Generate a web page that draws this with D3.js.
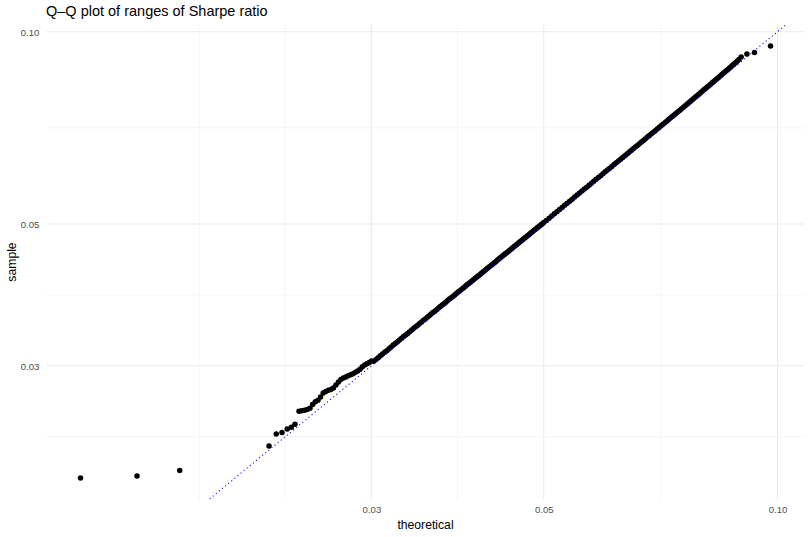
<!DOCTYPE html>
<html>
<head>
<meta charset="utf-8">
<script src="https://cdn.jsdelivr.net/npm/d3@7"></script>
<style>
  html, body { margin: 0; padding: 0; background: #ffffff; }
  svg { display: block; font-family: "Liberation Sans", Arial, Helvetica, sans-serif; }
</style>
</head>
<body>
<svg id="chart" width="810" height="537"></svg>
<script>
// ---------------- data ----------------
const titleText = "Q\u2013Q plot of ranges of Sharpe ratio";
const xLabel = "theoretical";
const yLabel = "sample";

const xTicks = [0.03, 0.05, 0.10];
const xTickLabels = ["0.03", "0.05", "0.10"];
const yTicks = [0.03, 0.05, 0.10];
const yTickLabels = ["0.03", "0.05", "0.10"];

// theoretical quantiles (x) and sorted sample values (y)
const theoretical = [
  0.01266, 0.01497, 0.01699, 0.02214, 0.02262, 0.02301, 0.02337, 0.02365, 0.02391,
  0.0242, 0.0244, 0.0246, 0.0248, 0.0250, 0.0252, 0.0254, 0.0256, 0.0258, 0.0260,
  0.0262, 0.0264, 0.0266, 0.0268, 0.0270, 0.0272, 0.0274, 0.0276, 0.0278, 0.0280,
  0.0282, 0.0284, 0.0286, 0.0288, 0.0290, 0.0292, 0.0294, 0.0296, 0.0298, 0.0300,
  0.0302, 0.0304, 0.0306, 0.0308, 0.0310, 0.0312, 0.0314, 0.0316, 0.0318, 0.0320,
  0.0322, 0.0324, 0.0326, 0.0328, 0.0330, 0.0332, 0.0334, 0.0336, 0.0338, 0.0340,
  0.0342, 0.0344, 0.0346, 0.0348, 0.0350, 0.0352, 0.0354, 0.0356, 0.0358, 0.0360,
  0.0362, 0.0364, 0.0366, 0.0368, 0.0370, 0.0372, 0.0374, 0.0376, 0.0378, 0.0380,
  0.0382, 0.0384, 0.0386, 0.0388, 0.0390, 0.0392, 0.0394, 0.0396, 0.0398, 0.0400,
  0.0402, 0.0404, 0.0406, 0.0408, 0.0410, 0.0412, 0.0414, 0.0416, 0.0418, 0.0420,
  0.0422, 0.0424, 0.0426, 0.0428, 0.0430, 0.0432, 0.0434, 0.0436, 0.0438, 0.0440,
  0.0442, 0.0444, 0.0446, 0.0448, 0.0450, 0.0452, 0.0454, 0.0456, 0.0458, 0.0460,
  0.0462, 0.0464, 0.0466, 0.0468, 0.0470, 0.0472, 0.0474, 0.0476, 0.0478, 0.0480,
  0.0482, 0.0484, 0.0486, 0.0488, 0.0490, 0.0492, 0.0494, 0.0496, 0.0498, 0.0500,
  0.0504, 0.0508, 0.0512, 0.0516, 0.0520, 0.0524, 0.0528, 0.0532, 0.0536, 0.0540,
  0.0544, 0.0548, 0.0552, 0.0556, 0.0560, 0.0564, 0.0568, 0.0572, 0.0576, 0.0580,
  0.0584, 0.0588, 0.0592, 0.0596, 0.0600, 0.0604, 0.0608, 0.0612, 0.0616, 0.0620,
  0.0624, 0.0628, 0.0632, 0.0636, 0.0640, 0.0644, 0.0648, 0.0652, 0.0656, 0.0660,
  0.0664, 0.0668, 0.0672, 0.0676, 0.0680, 0.0684, 0.0688, 0.0692, 0.0696, 0.0700,
  0.0704, 0.0708, 0.0712, 0.0716, 0.0720, 0.0724, 0.0728, 0.0732, 0.0736, 0.0740,
  0.0744, 0.0748, 0.0752, 0.0756, 0.0760, 0.0764, 0.0768, 0.0772, 0.0776, 0.0780,
  0.0784, 0.0788, 0.0792, 0.0796, 0.0800, 0.0804, 0.0808, 0.0812, 0.0816, 0.0820,
  0.0824, 0.0828, 0.0832, 0.0836, 0.0840, 0.0844, 0.0848, 0.0852, 0.0856, 0.0860,
  0.0864, 0.0868, 0.0872, 0.0876, 0.0880, 0.0884, 0.0888, 0.0892, 0.0898,
  0.09133, 0.09341, 0.09795
];
const sample = [
  0.02002, 0.02017, 0.02056, 0.02247, 0.02346, 0.02358, 0.02389, 0.02403, 0.02429,
  0.02546, 0.02550, 0.02555, 0.02562, 0.02575, 0.02610, 0.02635, 0.02650, 0.02680, 0.02720,
  0.02735, 0.02746, 0.02755, 0.02770, 0.02798, 0.02830, 0.02856, 0.02870, 0.02882, 0.02893,
  0.02905, 0.02916, 0.02930, 0.02943, 0.02962, 0.02990, 0.03008, 0.03022, 0.03036, 0.03052,
  0.03050, 0.03068, 0.03089, 0.03110, 0.03131, 0.03150, 0.03168, 0.03190, 0.03211, 0.03232,
  0.03252, 0.03270, 0.03291, 0.03312, 0.03334, 0.03353, 0.03371, 0.03392, 0.03413, 0.03435,
  0.03454, 0.03472, 0.03493, 0.03514, 0.03534, 0.03552, 0.03572, 0.03594, 0.03615, 0.03634,
  0.03652, 0.03672, 0.03694, 0.03714, 0.03733, 0.03751, 0.03772, 0.03794, 0.03815, 0.03834,
  0.03852, 0.03872, 0.03893, 0.03913, 0.03932, 0.03951, 0.03971, 0.03992, 0.04012, 0.04031,
  0.04050, 0.04070, 0.04091, 0.04111, 0.04131, 0.04150, 0.04170, 0.04190, 0.04210, 0.04230,
  0.04250, 0.04270, 0.04290, 0.04310, 0.04331, 0.04350, 0.04369, 0.04390, 0.04410, 0.04430,
  0.04450, 0.04470, 0.04490, 0.04510, 0.04530, 0.04550, 0.04570, 0.04590, 0.04609, 0.04629,
  0.04649, 0.04669, 0.04689, 0.04709, 0.04729, 0.04749, 0.04768, 0.04788, 0.04808, 0.04828,
  0.04848, 0.04867, 0.04887, 0.04907, 0.04927, 0.04946, 0.04966, 0.04986, 0.05006, 0.05026,
  0.05066, 0.05106, 0.05147, 0.05188, 0.05228, 0.05268, 0.05308, 0.05349, 0.05390, 0.05430,
  0.05469, 0.05509, 0.05550, 0.05591, 0.05631, 0.05671, 0.05710, 0.05751, 0.05792, 0.05833,
  0.05873, 0.05912, 0.05952, 0.05993, 0.06034, 0.06074, 0.06114, 0.06154, 0.06195, 0.06236,
  0.06276, 0.06315, 0.06355, 0.06396, 0.06437, 0.06477, 0.06516, 0.06556, 0.06597, 0.06638,
  0.06678, 0.06717, 0.06757, 0.06798, 0.06839, 0.06880, 0.06920, 0.06960, 0.07000, 0.07041,
  0.07082, 0.07122, 0.07162, 0.07202, 0.07243, 0.07284, 0.07325, 0.07365, 0.07405, 0.07445,
  0.07486, 0.07528, 0.07570, 0.07612, 0.07652, 0.07692, 0.07733, 0.07775, 0.07818, 0.07860,
  0.07900, 0.07940, 0.07981, 0.08024, 0.08067, 0.08110, 0.08151, 0.08190, 0.08230, 0.08272,
  0.08316, 0.08360, 0.08402, 0.08442, 0.08482, 0.08525, 0.08570, 0.08614, 0.08655, 0.08694,
  0.08734, 0.08778, 0.08823, 0.08866, 0.08905, 0.08950, 0.08998, 0.09050, 0.09128,
  0.09229, 0.09281, 0.09497
];

// ---------------- layout ----------------
const W = 810, H = 537;
const panel = { left: 46, right: 805, top: 24.4, bottom: 499.6 };
const svg = d3.select("#chart");

function expandedLogDomain(vals) {
  const lo = Math.log10(d3.min(vals)), hi = Math.log10(d3.max(vals));
  const e = (hi - lo) * 0.05;
  return [Math.pow(10, lo - e), Math.pow(10, hi + e)];
}

const x = d3.scaleLog().domain(expandedLogDomain(theoretical)).range([panel.left, panel.right]);
const y = d3.scaleLog().domain(expandedLogDomain(sample)).range([panel.bottom, panel.top]);

// ggplot-style minor breaks (midpoints in transformed space, extended one step)
function minorBreaks(ticks, domain) {
  const b = ticks.map(Math.log10);
  const lim = domain.map(Math.log10);
  const bd = b[1] - b[0];
  let bb = b.slice();
  if (lim[0] < bb[0]) bb.unshift(bb[0] - bd);
  if (lim[1] > bb[bb.length - 1]) bb.push(bb[bb.length - 1] + bd);
  const out = [];
  for (let i = 0; i < bb.length; i++) {
    out.push(bb[i]);
    if (i < bb.length - 1) out.push((bb[i] + bb[i + 1]) / 2);
  }
  return out.filter(v => v >= lim[0] && v <= lim[1] && !b.some(m => Math.abs(m - v) < 1e-9))
            .map(v => Math.pow(10, v));
}

const gridCol = "#EBEBEB";
const grid = svg.append("g");
grid.selectAll("line.xminor").data(minorBreaks(xTicks, x.domain())).join("line")
  .attr("x1", d => x(d)).attr("x2", d => x(d))
  .attr("y1", panel.top).attr("y2", panel.bottom)
  .attr("stroke", gridCol).attr("stroke-width", 0.55);
grid.selectAll("line.yminor").data(minorBreaks(yTicks, y.domain())).join("line")
  .attr("y1", d => y(d)).attr("y2", d => y(d))
  .attr("x1", panel.left).attr("x2", panel.right)
  .attr("stroke", gridCol).attr("stroke-width", 0.55);
grid.selectAll("line.xmajor").data(xTicks).join("line")
  .attr("x1", d => x(d)).attr("x2", d => x(d))
  .attr("y1", panel.top).attr("y2", panel.bottom)
  .attr("stroke", gridCol).attr("stroke-width", 1.1);
grid.selectAll("line.ymajor").data(yTicks).join("line")
  .attr("y1", d => y(d)).attr("y2", d => y(d))
  .attr("x1", panel.left).attr("x2", panel.right)
  .attr("stroke", gridCol).attr("stroke-width", 1.1);

svg.append("clipPath").attr("id", "clip").append("rect")
  .attr("x", panel.left).attr("y", panel.top)
  .attr("width", panel.right - panel.left).attr("height", panel.bottom - panel.top);

const plot = svg.append("g").attr("clip-path", "url(#clip)");

const pts = theoretical.map((t, i) => ({ t, s: sample[i] }));
plot.selectAll("circle").data(pts).join("circle")
  .attr("cx", d => x(d.t)).attr("cy", d => y(d.s))
  .attr("r", 2.75).attr("fill", "#000000");

// reference line y = x
const xd = x.domain();
plot.append("path")
  .datum([xd[0], xd[1]])
  .attr("d", d3.line().x(d => x(d)).y(d => y(d)))
  .attr("fill", "none").attr("stroke", "#0000FF")
  .attr("stroke-width", 1.1).attr("stroke-dasharray", "1.1 2.9");

const tickCol = "#4D4D4D";
const xAxis = d3.axisBottom(x).tickValues(xTicks).tickFormat((d, i) => xTickLabels[i]).tickSize(0).tickPadding(0);
const gx = svg.append("g").attr("transform", `translate(0,${panel.bottom})`).call(xAxis);
gx.select(".domain").remove();
gx.selectAll("text").attr("fill", tickCol).attr("font-size", "9.6px")
  .attr("font-family", "'Liberation Sans', Arial, sans-serif").attr("dy", null).attr("y", 13.5);

const yAxis = d3.axisLeft(y).tickValues(yTicks).tickFormat((d, i) => yTickLabels[i]).tickSize(0).tickPadding(0);
const gy = svg.append("g").attr("transform", `translate(${panel.left},0)`).call(yAxis);
gy.select(".domain").remove();
gy.selectAll("text").attr("fill", tickCol).attr("font-size", "9.6px")
  .attr("font-family", "'Liberation Sans', Arial, sans-serif").attr("x", -6.7).attr("dy", "0.35em");

svg.append("text").attr("x", (panel.left + panel.right) / 2).attr("y", 529)
  .attr("text-anchor", "middle").attr("font-size", "12.2px").attr("fill", "#000").text(xLabel);

svg.append("text").attr("transform", `translate(16,${(panel.top + panel.bottom) / 2}) rotate(-90)`)
  .attr("text-anchor", "middle").attr("font-size", "12.2px").attr("fill", "#000").text(yLabel);

svg.append("text").attr("x", panel.left).attr("y", 16)
  .attr("font-size", "14.5px").attr("fill", "#000").text(titleText);
</script>
</body>
</html>
